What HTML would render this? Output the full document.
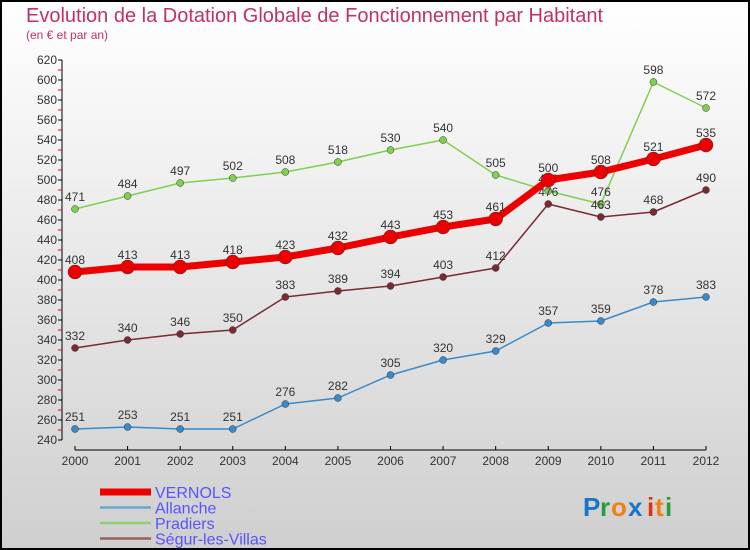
<!DOCTYPE html>
<html><head><meta charset="utf-8"><style>
body{margin:0;width:750px;height:550px;overflow:hidden}
svg{display:block;font-family:"Liberation Sans",sans-serif}
</style></head><body>
<svg width="750" height="550">
<defs><linearGradient id="bg" x1="0" y1="0" x2="0" y2="1"><stop offset="0" stop-color="#ffffff"/><stop offset="1" stop-color="#cfcfcf"/></linearGradient></defs>
<rect x="1" y="1" width="748" height="548" fill="url(#bg)" stroke="#000" stroke-width="2"/>
<text x="26" y="22" font-size="20" fill="#c0335f">Evolution de la Dotation Globale de Fonctionnement par Habitant</text>
<text x="26" y="39" font-size="12" fill="#c0335f">(en € et par an)</text>
<g id="axes"></g>
<g id="series"></g>
<g id="legend"></g>
<g font-size="26" font-weight="bold">
<text x="583" y="516" fill="#1a74c8">P</text><text x="600" y="516" fill="#2a9a3a">r</text><text x="611" y="516" fill="#f08010">o</text><text x="628" y="516" fill="#1a74c8">x</text><text x="647" y="516" fill="#e03010">i</text><text x="655" y="516" fill="#f08010">t</text><text x="665" y="516" fill="#2a9a3a">i</text>
</g>
</svg>
<script>
const years=[2000,2001,2002,2003,2004,2005,2006,2007,2008,2009,2010,2011,2012];
const yTicks=[240,260,280,300,320,340,360,380,400,420,440,460,480,500,520,540,560,580,600,620];
const seriesNames=["VERNOLS","Allanche","Pradiers","Ségur-les-Villas"];
const vernols=[408,413,413,418,423,432,443,453,461,500,508,521,535];
const allanche=[251,253,251,251,276,282,305,320,329,357,359,378,383];
const pradiers=[471,484,497,502,508,518,530,540,505,489,476,598,572];
const segur=[332,340,346,350,383,389,394,403,412,476,463,468,490];
const NS="http://www.w3.org/2000/svg";
const X=i=>75+i*(706-75)/12;
const Y=v=>440-(v-240)*(380/380);
function mk(tag,attrs,parent,txt){const e=document.createElementNS(NS,tag);for(const k in attrs)e.setAttribute(k,attrs[k]);if(txt!==undefined)e.textContent=txt;parent.appendChild(e);return e;}
const ax=document.getElementById('axes');
let yl=mk('line',{x1:62,y1:Y(620),x2:62,y2:Y(240),stroke:'#000'},ax);


let xl=mk('line',{x1:X(0),y1:450,x2:X(12),y2:450,stroke:'#000'},ax);


yTicks.forEach(v=>{
 mk('line',{x1:58,y1:Y(v),x2:62,y2:Y(v),stroke:'#000'},ax);
 if(v<620)mk('line',{x1:58,y1:Y(v+10),x2:62,y2:Y(v+10),stroke:'#e00'},ax);
 const t=mk('text',{x:57,y:Y(v)+4,'font-size':12,'text-anchor':'end',fill:'#333'},ax,v);
 
 
});
years.forEach((yr,i)=>{
 mk('line',{x1:X(i),y1:446,x2:X(i),y2:450,stroke:'#000'},ax);
 const t=mk('text',{x:X(i),y:465,'font-size':12,'text-anchor':'middle',fill:'#333'},ax,yr);
 
 
});
const sg=document.getElementById('series');
function draw(vals,color,w,r,name){
 const g=mk('g',{},sg);
 
 
 const pl=mk('polyline',{points:vals.map((v,i)=>X(i)+','+Y(v)).join(' '),fill:'none',stroke:color,'stroke-width':w,'stroke-linejoin':'round'},g);
 
 
 vals.forEach((v,i)=>{
  const c=mk('circle',{cx:X(i),cy:Y(v),r:r,fill:color,stroke:'#333','stroke-width':0.5},g);
  
  
  const t=mk('text',{x:X(i),y:Y(v)-8,'font-size':12,'text-anchor':'middle',fill:'#333'},g,v);
  
  
 });
}
draw(allanche,'#3a8ac8',1.5,3.5,'allanche');
draw(pradiers,'#80d050',1.5,3.5,'pradiers');
draw(segur,'#7a2a30',1.5,3.5,'segur-les-villas');
draw(vernols,'#ee0000',7,7,'vernols');
const lg=document.getElementById('legend');
const lcol=['#ee0000','#6aa6d0','#8fd070','#9a6060'];const lw=[7,2.5,2.5,2.5];
seriesNames.forEach((n,i)=>{
 const y=492+i*15.5;
 const g=mk('g',{},lg);
 
 
 mk('line',{x1:100,y1:y,x2:151,y2:y,stroke:lcol[i],'stroke-width':lw[i]},g);
 mk('text',{x:155,y:y+6,'font-size':16,fill:'#5555ff'},g,n);
});
</script>
</body></html>
